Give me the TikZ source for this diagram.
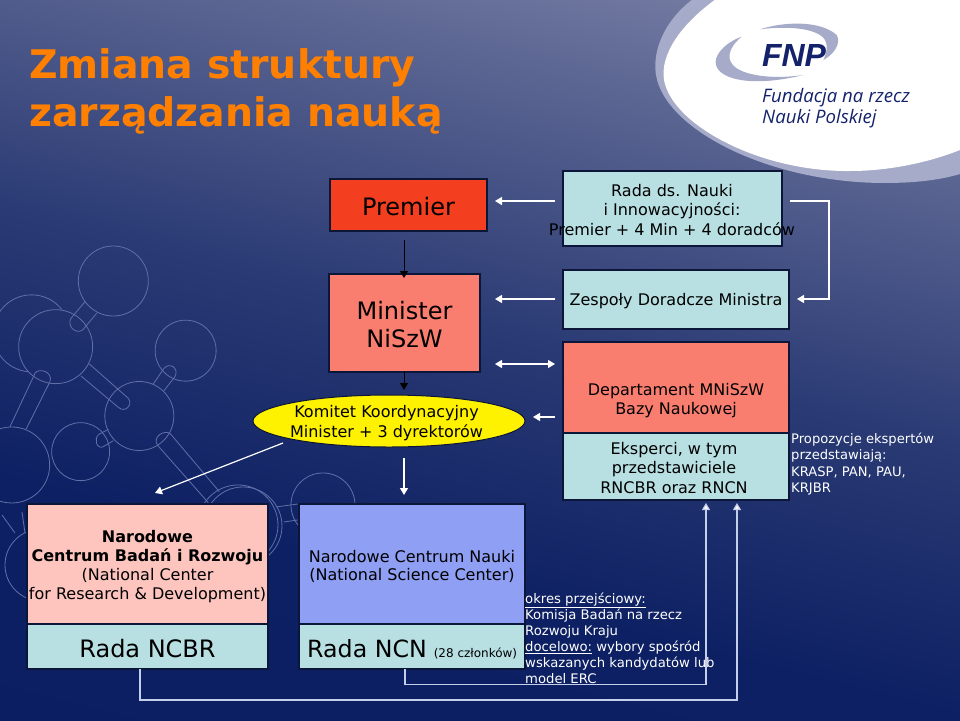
\documentclass[tikz,border=0pt]{standalone}
\usepackage{fontspec}
\setmainfont{DejaVu Sans}
\newfontfamily\logofont{Liberation Sans}
\newfontfamily\logotext{Open Sans}
\usetikzlibrary{arrows.meta,shapes.geometric}
\definecolor{bgA}{HTML}{0A1C60}
\definecolor{bgA2}{HTML}{0D2063}
\definecolor{bgB}{HTML}{2A3A74}
\definecolor{bgC}{HTML}{5E6894}
\definecolor{bgD}{HTML}{8C92B2}
\definecolor{bgE}{HTML}{B0B5CC}
\definecolor{cyanbox}{HTML}{B8E0E3}
\definecolor{salmon}{HTML}{F97E70}
\definecolor{redbox}{HTML}{F33F1F}
\definecolor{pinkbox}{HTML}{FEC5BF}
\definecolor{bluebox}{HTML}{8F9FF3}
\definecolor{edge}{HTML}{0B1638}
\definecolor{orangetitle}{HTML}{FF8000}
\definecolor{mol}{HTML}{5F70A8}
\definecolor{navy}{HTML}{14226B}
\definecolor{band}{HTML}{A5ABC8}
\definecolor{lineblue}{HTML}{C5CFEA}
\pgfdeclareverticalshading{bgshade}{100bp}{color(0bp)=(bgA); color(35bp)=(bgA2); color(52bp)=(bgB); color(70bp)=(bgC); color(85bp)=(bgD); color(100bp)=(bgE)}
\tikzset{
  x=1pt,y=-1pt,
  boxnode/.style={draw=edge,line width=1.4pt,rectangle,outer sep=0pt,inner sep=0pt,text=black,align=center},
  txt/.style={text=black,align=center,inner sep=0pt,font=\fontsize{16}{19.5}\selectfont},
  big/.style={font=\fontsize{24}{28}\selectfont},
  wa/.style={draw=white,line width=1.2pt,-{Triangle[width=8pt,length=7pt]}},
  waa/.style={draw=white,line width=1.2pt,{Triangle[width=8pt,length=7pt]}-{Triangle[width=8pt,length=7pt]}},
  ba/.style={draw=black,line width=1pt,-{Triangle[width=8pt,length=7pt]}},
  la/.style={draw=lineblue,line width=1.2pt,-{Triangle[width=8pt,length=7pt,fill=white]}},
  molline/.style={draw=mol,line width=0.8pt},
}
\begin{document}
\begin{tikzpicture}
\useasboundingbox (0,0) rectangle (960,720);
\shade[shading=bgshade,shading angle=-14] (0,0) rectangle (960,720);

% molecule
\begin{scope}[molline,x=0.3333pt,y=-0.3333pt,shift={(0pt,-230pt)}]
\draw (340,153) circle[radius=35pt];
\draw (167,350) circle[radius=37pt];
\draw (557,362) circle[radius=30.5pt];
\draw (418,558) circle[radius=34.5pt];
\draw (242,665) circle[radius=29pt];
\draw (35,705) circle[radius=38pt];
\draw (185,238) arc[start angle=38.6,end angle=265,radius=38.5pt];
\draw (255,215) -- (213,265) .. controls (200,285) and (225,315) .. (248,300) -- (290,250);
\draw (30,590) -- (105,430) .. controls (115,412) and (160,425) .. (150,455) -- (78,598);
\draw (268,402) -- (385,505) .. controls (400,525) and (375,550) .. (355,532) -- (243,438);
\draw (460,462) -- (492,415) .. controls (510,395) and (538,415) .. (525,440) -- (492,482);
\draw (325,598) -- (297,613) .. controls (280,625) and (290,660) .. (310,650) -- (340,632);
\draw (625,818) -- (472,645) .. controls (458,620) and (490,600) .. (510,610) -- (658,785);
\draw (729,888) circle[radius=39pt];
\draw (714,885) circle[radius=40pt];
\draw (969,825) circle[radius=32pt];
\draw (123,1005) circle[radius=36pt];
\draw (828,831) -- (894,822);
\draw (852,876) -- (894,870);
\draw (6,855) -- (45,909);
\draw (66,846) -- (75,909);
\end{scope}

% logo
\fill[band] (693,-1) .. controls (665,20) and (652,50) .. (656,75) .. controls (665,130) and (770,183) .. (885,183) .. controls (915,183) and (940,180) .. (960,174) -- (960,-1) -- cycle;
\fill[white] (716,-1) .. controls (680,25) and (660,55) .. (664,80) .. controls (672,125) and (760,172) .. (850,171) .. controls (890,171) and (930,162) .. (960,150) -- (960,-1) -- cycle;
\begin{scope}[x=0.3333pt,y=-0.3333pt,shift={(660pt,0pt)}]
\fill[band] (245,110) .. controls (190,130) and (160,170) .. (168,195) .. controls (180,240) and (280,262) .. (430,225) .. controls (330,240) and (230,225) .. (212,185) .. controls (200,160) and (220,130) .. (245,110) -- cycle;
\fill[band] (300,88) .. controls (370,65) and (480,60) .. (530,105) .. controls (545,130) and (520,165) .. (490,180) .. controls (505,150) and (505,120) .. (480,105) .. controls (440,80) and (360,80) .. (300,88) -- cycle;
\end{scope}
\node[inner sep=0pt,text=navy] (fnp) at (794,55) {\logofont\fontsize{32}{32}\selectfont\bfseries\itshape FNP};
\node[inner sep=0pt,anchor=north west,align=left,text=navy,font=\logotext\fontsize{18.6}{21}\selectfont\itshape] (fnptext) at (762,88) {Fundacja na rzecz\\Nauki Polskiej};

% title
\node[inner sep=0pt,anchor=west,text=orangetitle] (t1) at (29,68) {\fontsize{39.4}{48}\selectfont\bfseries Zmiana struktury};
\node[inner sep=0pt,anchor=west,text=orangetitle] (t2) at (29,115) {\fontsize{39.4}{48}\selectfont\bfseries zarządzania nauką};

% boxes
\node[boxnode,fill=redbox,minimum width=157pt,minimum height=52pt] (premier) at (408.5,205) {};
\node[txt,big] (premiertxt) at (408.5,207) {Premier};
\node[boxnode,fill=cyanbox,minimum width=219pt,minimum height=75pt] (rada) at (672.5,208.5) {};
\node[txt] (radatxt) at (672,210) {Rada ds. Nauki\\i Innowacyjności:\\Premier + 4 Min + 4 doradców};
\node[boxnode,fill=cyanbox,minimum width=226pt,minimum height=59pt] (zespoly) at (676,299.5) {};
\node[txt] (zespolytxt) at (676,301) {Zespoły Doradcze Ministra};
\node[boxnode,fill=salmon,minimum width=151pt,minimum height=98pt] (minister) at (404.5,323) {};
\node[txt,big] (ministertxt) at (404.5,324.5) {Minister\\NiSzW};
\node[boxnode,fill=salmon,minimum width=226pt,minimum height=91pt] (dept) at (676,387.5) {};
\node[txt] (depttxt) at (676,400.5) {Departament MNiSzW\\Bazy Naukowej};
\node[boxnode,fill=cyanbox,minimum width=226pt,minimum height=67pt] (eksp) at (676,466.5) {};
\node[txt] (eksptxt) at (674,468) {Eksperci, w tym\\przedstawiciele\\RNCBR oraz RNCN};
\node[draw=edge,line width=1pt,ellipse,fill=yellow,minimum width=272pt,minimum height=52pt,inner sep=0pt,outer sep=0pt,align=center] (komitet) at (389,421) {};
\node[txt] (komtxt) at (386.5,423) {Komitet Koordynacyjny\\Minister + 3 dyrektorów};
\node[boxnode,fill=pinkbox,minimum width=241pt,minimum height=120pt] (ncbr) at (147.5,564) {};
\node[txt,font=\fontsize{16}{18.8}\selectfont] (ncbrtxt) at (147.5,566.5) {\textbf{Narodowe}\\\textbf{Centrum Badań i Rozwoju}\\(National Center\\for Research \& Development)};
\node[boxnode,fill=cyanbox,minimum width=241pt,minimum height=45pt] (rncbr) at (147.5,646.5) {};
\node[txt,big] (rncbrtxt) at (147.5,649) {Rada NCBR};
\node[boxnode,fill=bluebox,minimum width=226pt,minimum height=120pt] (ncn) at (412,564) {};
\node[txt,font=\fontsize{16}{18.8}\selectfont] (ncntxt) at (412,566.5) {Narodowe Centrum Nauki\\(National Science Center)};
\node[boxnode,fill=cyanbox,minimum width=226pt,minimum height=45pt] (rncn) at (412,646.5) {};
\node[inner sep=0pt,anchor=base west,text=black] (rncntxt) at (307,657) {\fontsize{23.7}{28}\selectfont Rada NCN\hspace{7pt}\fontsize{12}{14}\selectfont (28 członków)};
\node[inner sep=0pt,anchor=north west,align=left,text=white,font=\fontsize{13.2}{16}\selectfont] (note) at (525,592.5) {\underline{okres przejściowy:}\\Komisja Badań na rzecz\\Rozwoju Kraju\\\underline{docelowo:} wybory spośród\\wskazanych kandydatów lub\\model ERC};
\node[inner sep=0pt,anchor=north west,align=left,text=white,font=\fontsize{13.1}{16.3}\selectfont] (prop) at (791,433) {Propozycje ekspertów\\przedstawiają:\\KRASP, PAN, PAU,\\KRJBR};

% connectors
\draw[wa,shorten <=8pt,shorten >=8pt] (rada.west |- 0,201) -- (premier.east |- 0,201);
\draw[wa,shorten <=8pt,shorten >=8pt] (rada.east |- 0,201) -- (829,201) -- (829,299) -- (zespoly.east |- 0,299);
\draw[wa,shorten <=8pt,shorten >=15pt] (zespoly.west |- 0,299) -- (minister.east |- 0,299);
\draw[waa,shorten <=15pt,shorten >=8pt] (minister.east |- 0,364) -- (dept.west |- 0,364);
\draw[wa,shorten <=8pt,shorten >=8pt] (dept.west |- 0,417) -- (komitet.east |- 0,417);
\draw[ba,shorten <=9pt,shorten >=-4pt] (premier.south -| 404,0) -- (minister.north -| 404,0);
\draw[ba,shorten >=5pt] (minister.south -| 404,0) -- (404,395);
\draw[wa,shorten <=11pt,shorten >=9pt] (komitet.south -| 404,0) -- (ncn.north -| 404,0);
\coordinate (kl) at (283,443);
\coordinate (kt) at (155,493);
\draw[wa] (kl) -- (kt);
\draw[la] (rncn.south -| 405,0) -- (405,684.5) -- (706,684.5) -- ([yshift=-3pt]eksp.south -| 706,0);
\draw[la] (rncbr.south -| 140,0) -- (140,700) -- (737,700) -- ([yshift=-3pt]eksp.south -| 737,0);
\end{tikzpicture}
\end{document}
